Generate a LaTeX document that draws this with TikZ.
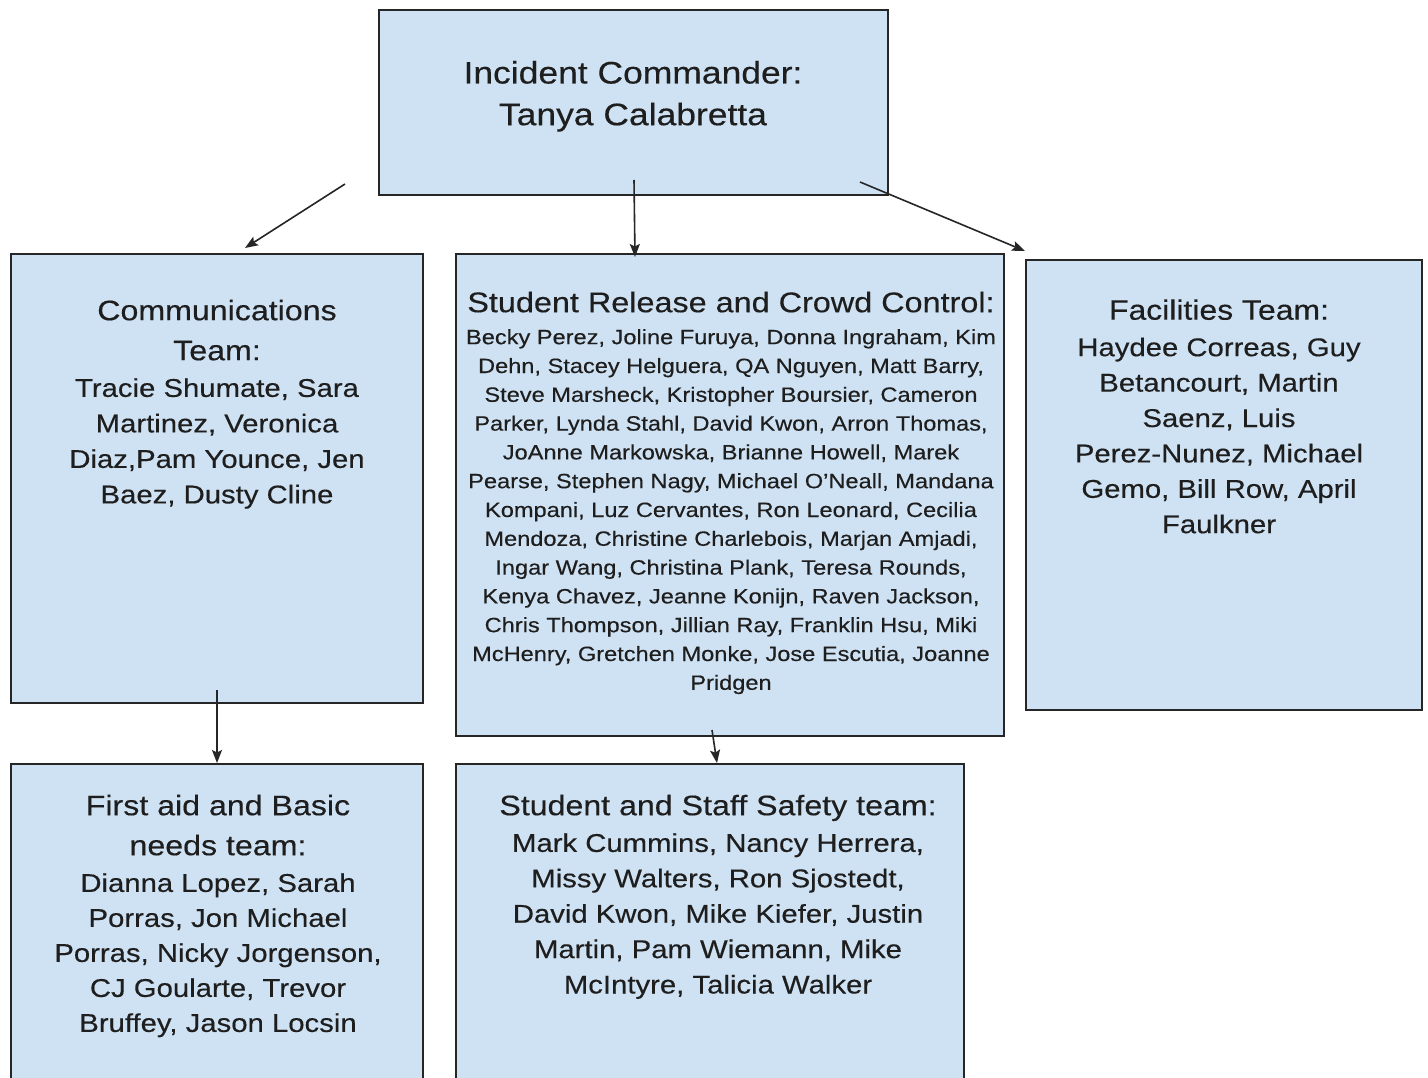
\documentclass[tikz,border=0pt]{standalone}
\usepackage{fontspec}
\setmainfont{Liberation Sans}[FakeStretch=1.14,FakeBold=0.35]
\usetikzlibrary{arrows.meta}
\definecolor{boxblue}{HTML}{CFE2F3}
\definecolor{textc}{HTML}{1E1E1E}
\newcommand{\firstln}{\rule{0pt}{1em}}
\begin{document}
\begin{tikzpicture}[x=1pt,y=-1pt,
  teambox/.style={draw=black!85, line width=1.8pt, fill=boxblue, rectangle, inner sep=0pt, outer sep=0pt},
  txt/.style 2 args={font={\fontsize{#1}{#2}\selectfont}, align=center, anchor=north, inner sep=0pt, text=textc},
  conn/.style={draw=black!85, line width=1.6pt, -{Stealth[length=13pt,width=10pt,inset=2.5pt]}}
]
\useasboundingbox (0,0) rectangle (1428,1078);
\begin{scope}
\clip (0,0) rectangle (1428,1078);
\fill[white] (0,0) rectangle (1428,1078);
% boxes
\node[teambox, minimum width=509pt, minimum height=185pt] (top) at (633.5,102.5) {};
\node[teambox, minimum width=412pt, minimum height=449pt] (comm) at (217,478.5) {};
\node[teambox, minimum width=548pt, minimum height=482pt] (mid) at (730,495) {};
\node[teambox, minimum width=396pt, minimum height=450pt] (fac) at (1224,485) {};
\node[teambox, minimum width=412pt, minimum height=336pt] (aid) at (217,932) {};
\node[teambox, minimum width=508pt, minimum height=336pt] (safe) at (710,932) {};
% texts
\node[txt={31.1}{41.7}] (toptxt) at (633,52.2) {\firstln Incident Commander:\\Tanya Calabretta};
\node[txt={28.2}{40}] (commtitle) at (217,291.8) {\firstln Communications\\Team:};
\node[txt={25.7}{35.5}] (commnames) at (217,371) {\firstln Tracie Shumate, Sara\\Martinez, Veronica\\Diaz,Pam Younce, Jen\\Baez, Dusty Cline};
\node[txt={28.4}{40}] (midtitle) at (731,283.6) {\firstln Student Release and Crowd Control:};
\node[txt={20.7}{28.8}] (midnames) at (731,323.3) {\firstln Becky Perez, Joline Furuya, Donna Ingraham, Kim\\
Dehn, Stacey Helguera, QA Nguyen, Matt Barry,\\
Steve Marsheck, Kristopher Boursier, Cameron\\
Parker, Lynda Stahl, David Kwon, Arron Thomas,\\
JoAnne Markowska, Brianne Howell, Marek\\
Pearse, Stephen Nagy, Michael O'Neall, Mandana\\
Kompani, Luz Cervantes, Ron Leonard, Cecilia\\
Mendoza, Christine Charlebois, Marjan Amjadi,\\
Ingar Wang, Christina Plank, Teresa Rounds,\\
Kenya Chavez, Jeanne Konijn, Raven Jackson,\\
Chris Thompson, Jillian Ray, Franklin Hsu, Miki\\
McHenry, Gretchen Monke, Jose Escutia, Joanne\\
Pridgen};
\node[txt={28.0}{40}] (factitle) at (1219,291.5) {\firstln Facilities Team:};
\node[txt={25.7}{35.4}] (facnames) at (1219,330.3) {\firstln Haydee Correas, Guy\\Betancourt, Martin\\Saenz, Luis\\Perez-Nunez, Michael\\Gemo, Bill Row, April\\Faulkner};
\node[txt={28.2}{40}] (aidtitle) at (218,786.8) {\firstln First aid and Basic\\needs team:};
\node[txt={25.7}{35}] (aidnames) at (218,866) {\firstln Dianna Lopez, Sarah\\Porras, Jon Michael\\Porras, Nicky Jorgenson,\\CJ Goularte, Trevor\\Bruffey, Jason Locsin};
\node[txt={28.2}{40}] (safetitle) at (718,786.8) {\firstln Student and Staff Safety team:};
\node[txt={25.7}{35.4}] (safenames) at (718,826) {\firstln Mark Cummins, Nancy Herrera,\\Missy Walters, Ron Sjostedt,\\David Kwon, Mike Kiefer, Justin\\Martin, Pam Wiemann, Mike\\McIntyre, Talicia Walker};
% connector ends
\coordinate (a1s) at (345,184);
\coordinate (a1e) at (245,248);
\coordinate (a2s) at (634,180);
\coordinate (a2e) at (635,257);
\coordinate (a3s) at (860,182);
\coordinate (a3e) at (1025,251);
\coordinate (a4s) at (217,690);
\coordinate (a4e) at (217,763);
\coordinate (a5s) at (712,730);
\coordinate (a5e) at (717,763);
\draw[conn] (a1s) -- (a1e);
\draw[conn] (a2s) -- (a2e);
\draw[conn] (a3s) -- (a3e);
\draw[conn] (a4s) -- (a4e);
\draw[conn] (a5s) -- (a5e);
\end{scope}
\end{tikzpicture}
\end{document}
